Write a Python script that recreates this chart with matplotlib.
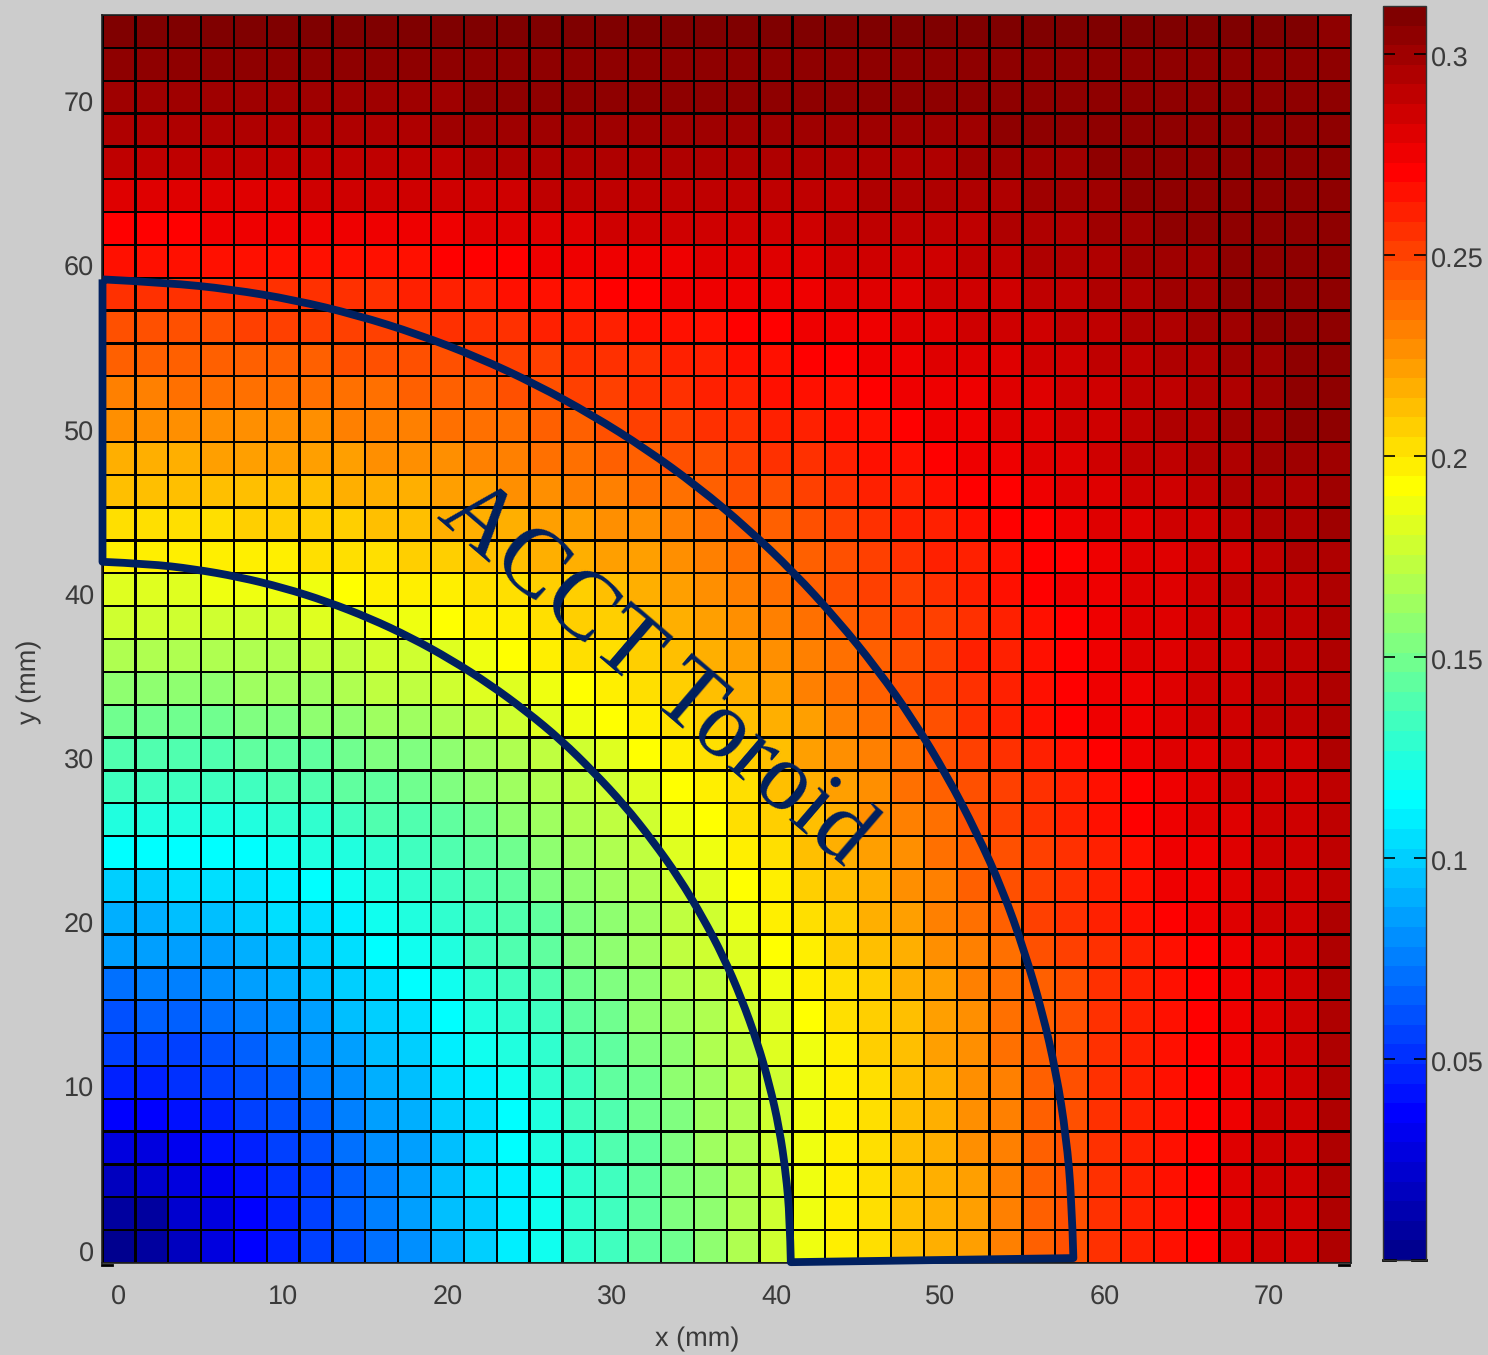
import numpy as np
import matplotlib
matplotlib.use("Agg")
import matplotlib.pyplot as plt
from matplotlib.colors import ListedColormap
from matplotlib.patches import PathPatch
from matplotlib.path import Path
from matplotlib.transforms import ScaledTranslation

plt.rcParams["font.family"] = ["Liberation Sans", "DejaVu Sans"]
plt.rcParams["text.hinting"] = "none"
plt.rcParams["path.simplify"] = False

BG = "#cccccc"
TXT = "#3a3a3a"
NAVY = "#002060"

# cell centres (mm)
x_mm = list(range(0, 76, 2))
y_mm = list(range(0, 76, 2))

# field, thousandths, bottom row first
field_milli = [
    [2,7,18,28,37,44,54,63,73,82,92,101,110,119,127,135,143,151,159,167,177,186,197,202,210,217,224,232,240,247,254,260,266,272,278,284,287,297],
    [5,9,21,29,38,46,55,64,74,83,93,102,111,120,128,136,144,152,160,168,177,186,197,202,210,217,224,232,240,247,254,260,266,272,278,284,287,296],
    [18,21,26,33,42,50,58,66,75,84,94,103,112,120,128,136,144,152,160,168,177,186,197,202,210,217,224,232,240,247,254,260,266,272,278,283,286,296],
    [27,29,33,40,48,55,62,70,78,87,96,105,113,122,130,138,145,153,161,169,178,186,197,203,210,218,225,232,240,247,254,260,266,272,278,283,286,295],
    [37,38,42,47,54,61,68,75,83,91,99,107,115,124,132,139,147,155,162,170,178,187,197,203,211,218,225,233,240,247,254,260,266,272,277,283,286,295],
    [45,46,50,55,61,67,74,81,88,96,104,112,120,128,135,142,150,157,164,172,180,188,197,204,211,219,226,233,240,247,254,260,266,272,277,282,285,294],
    [54,55,58,62,68,74,80,87,94,101,109,117,124,131,138,145,153,160,167,175,182,190,198,205,212,220,227,234,241,248,254,260,266,272,277,282,285,294],
    [63,64,66,70,75,81,87,93,100,107,114,122,129,136,143,149,156,163,170,177,185,192,200,207,214,221,228,235,242,248,254,260,266,271,277,282,285,294],
    [73,74,75,78,83,88,94,100,106,113,120,127,134,140,147,154,160,167,174,181,188,195,202,209,216,223,230,236,242,248,255,261,266,271,277,282,285,293],
    [83,83,84,87,91,96,101,106,113,119,126,132,139,146,152,158,165,171,178,184,191,198,205,212,219,225,232,238,244,250,256,262,267,272,277,282,285,293],
    [92,92,94,96,99,103,107,112,117,123,128,134,139,146,152,158,165,172,180,187,195,202,209,216,223,230,236,243,249,255,261,266,271,276,280,284,286,293],
    [101,102,103,104,107,110,114,119,124,129,134,139,146,152,158,164,170,177,185,192,199,206,213,219,226,232,239,245,251,257,262,268,273,277,281,284,286,292],
    [114,114,114,115,116,119,122,126,130,135,140,146,150,157,163,169,175,182,190,197,204,210,216,222,228,235,241,247,253,258,263,268,273,277,281,284,285,292],
    [124,124,124,125,126,128,130,133,137,141,146,151,157,162,168,174,180,187,194,200,206,212,218,225,231,238,244,250,256,261,266,271,275,278,282,285,286,292],
    [133,133,133,134,135,137,140,143,146,150,154,158,163,168,174,179,185,192,198,204,210,216,222,228,234,240,246,252,258,262,267,272,276,279,283,285,286,292],
    [140,140,140,141,142,144,146,149,152,155,159,163,167,173,178,183,191,197,203,208,214,220,226,232,238,244,250,255,261,266,271,275,278,281,284,286,287,293],
    [150,150,150,151,152,154,156,158,161,164,167,171,176,181,186,191,197,203,208,214,219,224,230,236,242,248,254,259,264,269,273,277,280,283,286,288,289,294],
    [159,159,159,160,161,163,165,168,171,174,177,181,185,190,194,198,203,208,213,218,224,230,235,240,245,250,256,262,266,270,274,277,280,283,286,289,290,295],
    [167,167,167,168,169,170,172,174,177,180,183,188,192,196,200,204,208,213,217,223,228,233,237,243,248,253,259,263,267,271,275,279,282,285,287,289,291,295],
    [176,176,176,177,178,179,181,184,186,190,194,197,199,202,205,209,213,217,221,226,230,235,239,244,249,253,258,262,265,270,274,278,281,284,287,289,291,296],
    [185,185,185,186,187,188,190,192,195,197,199,201,203,206,209,213,217,222,226,231,235,239,244,249,253,257,260,264,269,273,276,279,282,285,288,290,292,296],
    [195,195,195,196,197,198,200,202,204,206,208,211,213,215,217,220,223,226,230,234,238,242,246,250,255,259,263,266,269,272,275,278,281,284,287,290,293,297],
    [203,203,203,204,205,206,208,209,211,213,215,217,219,222,224,226,229,232,235,239,243,246,250,255,259,263,266,270,272,275,278,281,284,287,290,293,295,298],
    [210,210,210,211,212,213,214,216,218,219,221,223,225,228,230,233,235,238,241,244,248,252,256,260,263,267,269,272,275,278,281,284,287,290,293,295,297,300],
    [219,219,219,220,221,222,223,224,226,227,229,231,233,235,237,240,242,245,248,251,254,258,262,265,268,271,274,277,279,282,285,288,291,294,296,298,300,302],
    [226,226,226,226,227,228,228,230,231,232,234,236,238,240,242,246,249,253,255,258,260,263,265,268,270,273,276,278,281,284,287,290,293,296,298,301,303,304],
    [233,233,234,234,235,236,236,237,238,239,241,243,245,247,249,251,254,256,259,261,264,266,268,270,273,275,277,280,282,284,287,290,292,295,297,300,303,304],
    [240,240,240,241,241,242,243,244,245,246,247,249,251,252,254,256,258,260,262,265,268,270,272,274,276,278,280,282,284,287,289,291,294,297,299,302,304,305],
    [248,248,248,248,249,249,250,251,252,253,254,256,257,259,260,262,264,266,268,270,272,274,275,277,279,281,283,285,287,289,292,294,297,299,302,304,305,305],
    [255,255,255,255,256,256,257,258,258,259,260,262,264,266,268,270,272,273,274,275,276,277,278,279,281,283,285,287,289,292,295,297,299,301,303,305,305,305],
    [265,265,265,265,266,266,266,267,267,268,269,270,272,273,275,276,276,277,278,279,280,281,283,284,286,287,289,291,293,294,296,298,300,302,304,305,306,305],
    [272,272,272,273,273,274,274,275,275,276,277,278,279,280,281,283,283,284,284,285,286,287,288,288,289,290,292,294,295,297,299,301,303,305,306,306,306,305],
    [280,280,280,281,281,282,283,283,284,285,286,287,287,288,289,290,290,290,290,290,290,291,292,293,293,294,296,297,298,300,301,303,305,306,306,306,306,305],
    [288,288,288,288,289,289,290,290,291,291,292,293,293,294,294,295,295,295,295,295,295,295,295,296,296,297,298,299,300,302,303,305,306,306,306,306,306,305],
    [295,295,295,295,296,296,296,297,297,297,298,298,299,299,299,299,299,299,299,299,299,299,300,300,301,301,302,303,304,305,306,306,306,306,306,306,306,305],
    [300,300,300,300,301,301,301,301,302,302,302,303,303,303,303,303,303,303,303,304,304,304,304,305,305,305,306,306,306,306,306,306,306,306,306,306,306,305],
    [305,305,305,305,305,305,306,306,306,306,306,306,306,306,306,306,306,306,306,306,306,306,306,306,306,306,306,306,306,306,306,306,306,306,306,306,306,305],
    [309,309,309,309,309,309,309,309,309,309,310,310,310,310,310,310,310,310,310,310,310,310,310,310,310,310,310,310,310,310,310,310,310,310,309,309,308,306],
]

# toroid outline (mm)
outer_x = [-1,2.9,6.8,10.67,14.47,18.2,21.85,25.4,28.8,32.1,35.26,38.25,41.07,43.7,46.15,48.4,50.4,52.2,53.8,55.1,56.2,57.06,57.66,58.0,58.1]
outer_y = [58.9,58.7,58.3,57.65,56.73,55.56,54.16,52.5,50.64,48.56,46.26,43.75,41.07,38.2,35.18,32.0,28.68,25.24,21.7,18.05,14.33,10.55,6.72,2.87,-0.7]
inner_x = [40.9,40.84,40.6,40.2,39.6,38.84,37.9,36.8,35.52,34.1,32.5,30.78,28.9,26.93,24.8,22.56,20.2,17.78,15.26,12.67,10.02,7.31,4.56,1.79,-1]
inner_y = [-0.95,1.74,4.48,7.2,9.88,12.5,15.1,17.65,20.08,22.45,24.7,26.87,28.9,30.83,32.6,34.25,35.75,37.09,38.27,39.28,40.12,40.78,41.26,41.58,41.7]

x_ticks = [0, 10, 20, 30, 40, 50, 60, 70]
y_ticks = [0, 10, 20, 30, 40, 50, 60, 70]
cb_ticks = [0.05, 0.1, 0.15, 0.2, 0.25, 0.3]
cb_labels = ["0.05", "0.1", "0.15", "0.2", "0.25", "0.3"]

W, H = 1488, 1355


def frac_axes(left, top, right, bottom):
    return [left / W, 1 - bottom / H, (right - left) / W, (bottom - top) / H]


def matlab_jet(m=64):
    # matplotlib's jet puts yellow a bit higher up than MATLAB's
    t = (np.arange(m) + 1.0) / m
    r = np.clip(np.minimum(4 * t - 1.5, 4.5 - 4 * t), 0, 1)
    g = np.clip(np.minimum(4 * t - 0.5, 3.5 - 4 * t), 0, 1)
    b = np.clip(np.minimum(4 * t + 0.5, 2.5 - 4 * t), 0, 1)
    return ListedColormap(np.column_stack([r, g, b]))


def smooth_arc(xs, ys):
    # quadratic pieces through the read points, so the thick line has no corners
    pts = np.column_stack([xs, ys])
    verts, codes = [pts[0]], [Path.LINETO]
    for i in range(1, len(pts) - 1):
        verts += [pts[i], (pts[i] + pts[i + 1]) / 2 if i < len(pts) - 2 else pts[i + 1]]
        codes += [Path.CURVE3, Path.CURVE3]
    return verts, codes


fig = plt.figure(figsize=(W / 100, H / 100), dpi=100, facecolor=BG)
ax = fig.add_axes(frac_axes(102.5, 15, 1351, 1263))
cax = fig.add_axes(frac_axes(1383, 6, 1426, 1260))

vals = np.array(field_milli) / 1000.0
xe = np.append(np.array(x_mm) - 1, x_mm[-1] + 1)
ye = np.append(np.array(y_mm) - 1, y_mm[-1] + 1)
mesh = ax.pcolormesh(xe, ye, vals, cmap=matlab_jet(), vmin=0.0, vmax=0.312,
                     edgecolors="#000000", linewidth=0.95)
mesh.set_snap(False)
ax.set_xlim(xe[0], xe[-1])
ax.set_ylim(ye[0], ye[-1])

# outline
v1, c1 = smooth_arc(outer_x, outer_y)
v2, c2 = smooth_arc(inner_x, inner_y)
verts = v1 + v2 + [v1[0]]
codes = [Path.MOVETO] + c1[1:] + c2 + [Path.LINETO]
ax.add_patch(PathPatch(Path(verts, codes), facecolor="none", edgecolor=NAVY, lw=5.6,
                       joinstyle="round", clip_on=False, zorder=5))
ax.text(19.25, 44.4, "ACCT Toroid", family=["Liberation Serif", "DejaVu Serif"], fontsize=70, color=NAVY,
        rotation=-40.6, rotation_mode="anchor", ha="left", va="baseline", zorder=6)

ax.set_xticks(x_ticks)
ax.set_yticks(y_ticks)
ax.tick_params(axis="both", length=0, labelsize=19.5, labelcolor=TXT)
ax.tick_params(axis="x", pad=16)
ax.tick_params(axis="y", pad=6)
for lab in ax.get_yticklabels():
    lab.set_transform(lab.get_transform() + ScaledTranslation(0, -5 / 100, fig.dpi_scale_trans))
for s in ax.spines.values():
    s.set_color("#222222")
    s.set_linewidth(1.2)
# little stubs MATLAB leaves at the axes corners
ax.plot([0, 0.008], [-0.002, -0.002], transform=ax.transAxes, color="k", lw=2, clip_on=False)
ax.plot([0.99, 0.998], [-0.002, -0.002], transform=ax.transAxes, color="k", lw=2, clip_on=False)

cb = fig.colorbar(mesh, cax=cax)
cb.set_ticks(cb_ticks, labels=cb_labels)
cb.minorticks_off()
cax.tick_params(axis="y", which="major", direction="in", left=True, right=True, length=8.5, width=1.2,
                color="k", labelsize=19.5, labelcolor=TXT, pad=3.5)
for lab in cax.get_yticklabels():
    lab.set_transform(lab.get_transform() + ScaledTranslation(0, -3 / 100, fig.dpi_scale_trans))
cb.outline.set_edgecolor("#333333")
cb.outline.set_linewidth(1.0)
cax.plot([0, 0.27], [0, 0], transform=cax.transAxes, color="k", lw=2, clip_on=False)
cax.plot([0.68, 1], [0, 0], transform=cax.transAxes, color="k", lw=2, clip_on=False)

fig.text(697 / W, 1 - 1339 / H, "x (mm)", fontsize=19.5, color=TXT, ha="center", va="center")
fig.text(29 / W, 1 - 682 / H, "y (mm)", fontsize=19.5, color=TXT, ha="center", va="center", rotation=90)

fig.savefig("out.png", dpi=100, facecolor=BG)
